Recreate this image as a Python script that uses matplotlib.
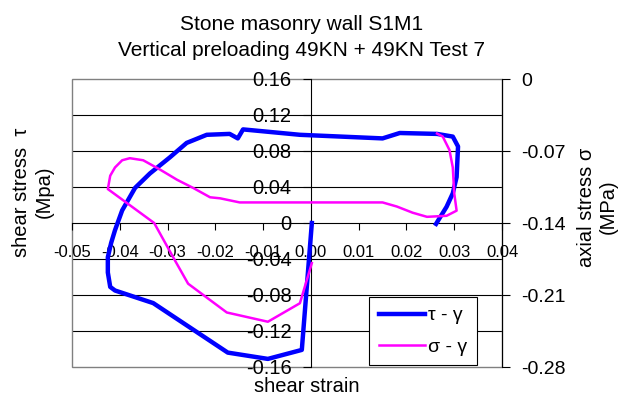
import matplotlib
matplotlib.use("Agg")
import matplotlib.pyplot as plt
from matplotlib.patches import Rectangle

plt.rcParams['font.family'] = ['Liberation Sans', 'DejaVu Sans']

# Shear stress tau (MPa) versus shear strain gamma
gamma_tau = [0.0002, -0.0019, -0.0090, -0.0174, -0.0330, -0.0410, -0.0420, -0.0425,
             -0.0425, -0.0418, -0.0410, -0.0395, -0.0368, -0.0337, -0.0295, -0.0260,
             -0.0218, -0.0170, -0.0153, -0.0142, -0.0023, 0.0150, 0.0186, 0.0264,
             0.0297, 0.0308, 0.0305, 0.0297, 0.0284, 0.0270, 0.0262]
tau = [0.000, -0.141, -0.151, -0.144, -0.089, -0.075, -0.071, -0.055,
       -0.038, -0.022, -0.008, 0.014, 0.039, 0.055, 0.073, 0.089,
       0.098, 0.099, 0.094, 0.104, 0.098, 0.094, 0.100, 0.099,
       0.096, 0.085, 0.051, 0.033, 0.018, 0.006, -0.001]

# Axial stress sigma (MPa) versus shear strain gamma
gamma_sig = [0.0002, -0.0023, -0.0090, -0.0176, -0.0257, -0.0285, -0.0328, -0.0425,
             -0.0420, -0.0410, -0.0395, -0.0379, -0.0351, -0.0316, -0.0280, -0.0246,
             -0.0211, -0.0190, -0.0149, 0.0150, 0.0180, 0.0213, 0.0243, 0.0284,
             0.0305, 0.0300, 0.0297, 0.0290, 0.0276, 0.0264]
sigma = [-0.179, -0.218, -0.236, -0.227, -0.199, -0.176, -0.140, -0.107,
         -0.094, -0.086, -0.079, -0.077, -0.079, -0.088, -0.098, -0.106,
         -0.115, -0.116, -0.120, -0.120, -0.124, -0.130, -0.134, -0.133,
         -0.128, -0.111, -0.086, -0.069, -0.056, -0.053]

x_ticks = [-0.05, -0.04, -0.03, -0.02, -0.01, 0.00, 0.01, 0.02, 0.03, 0.04]
x_labels = ['-0.05', '-0.04', '-0.03', '-0.02', '-0.01', '0.00', '0.01', '0.02', '0.03', '0.04']
tau_ticks = [-0.16, -0.12, -0.08, -0.04, 0.0, 0.04, 0.08, 0.12, 0.16]
tau_labels = ['-0.16', '-0.12', '-0.08', '-0.04', '0', '0.04', '0.08', '0.12', '0.16']
sig_ticks = [-0.28, -0.21, -0.14, -0.07, 0.0]
sig_labels = ['-0.28', '-0.21', '-0.14', '-0.07', '0']

W, H = 626, 396
fig = plt.figure(figsize=(W / 100, H / 100), dpi=100)
x0, x1, y0, y1 = 72, 502, 79, 367
ax = fig.add_axes([x0 / W, 1 - y1 / H, (x1 - x0) / W, (y1 - y0) / H])
ax.set_xlim(-0.05, 0.04)
ax.set_ylim(-0.16, 0.16)

# horizontal gridlines
for t in tau_ticks[1:-1]:
    if t != 0:
        ax.axhline(t, color='black', lw=0.8, zorder=1)

# plot-area border
ax.add_patch(Rectangle((0, 0), 1, 1, transform=ax.transAxes, fill=False,
                       edgecolor='#808080', lw=1.0, zorder=1, clip_on=False))

for s in ['top', 'right']:
    ax.spines[s].set_visible(False)
ax.spines['left'].set_position(('data', 0))
ax.spines['bottom'].set_position(('data', 0))
ax.spines['left'].set_color('black')
ax.spines['bottom'].set_color('black')
ax.spines['left'].set_linewidth(0.8)
ax.spines['bottom'].set_linewidth(0.8)

ax.set_xticks(x_ticks)
ax.set_xticklabels(x_labels)
ax.set_yticks(tau_ticks)
ax.set_yticklabels(tau_labels)
ax.tick_params(axis='x', direction='out', length=5, width=0.8, labelsize=12, pad=11)
ax.tick_params(axis='y', direction='out', length=6, width=0.8, labelsize=14.5, pad=8)

l1, = ax.plot(gamma_tau, tau, color='#0000FF', lw=3.2, solid_joinstyle='round',
              label='τ - γ', zorder=3)

ax2 = ax.twinx()
ax2.set_ylim(-0.28, 0.0)
ax2.set_xlim(-0.05, 0.04)
for s in ['top', 'left', 'bottom']:
    ax2.spines[s].set_visible(False)
ax2.spines['right'].set_color('black')
ax2.spines['right'].set_linewidth(0.8)
ax2.set_yticks(sig_ticks)
ax2.set_yticklabels(sig_labels)
ax2.tick_params(axis='y', direction='out', length=6, width=0.8, labelsize=14, pad=8)
l2, = ax2.plot(gamma_sig, sigma, color='#FF00FF', lw=1.8, label='σ - γ', zorder=3)

leg = ax2.legend(handles=[l1, l2], loc='upper left',
                 bbox_to_anchor=(369 / W, 1 - 297 / H), bbox_transform=fig.transFigure,
                 borderaxespad=0, fontsize=14, frameon=True, fancybox=False,
                 handlelength=2.4, handletextpad=0.15, labelspacing=0.7,
                 borderpad=0.5)
leg.get_frame().set_edgecolor('black')
leg.get_frame().set_linewidth(0.8)
leg.get_frame().set_alpha(1)

fig.text(302 / W, 1 - 24 / H, 'Stone masonry wall S1M1', ha='center', va='center', fontsize=15)
fig.text(302 / W, 1 - 50 / H, 'Vertical preloading 49KN + 49KN Test 7', ha='center',
         va='center', fontsize=15)
fig.text(33 / W, 1 - 192 / H, 'shear stress  τ\n(Mpa)', rotation=90, ha='center',
         va='center', fontsize=14.5, multialignment='center')
fig.text(597 / W, 1 - 207 / H, 'axial stress σ\n(MPa)', rotation=90, ha='center',
         va='center', fontsize=14.5, multialignment='center')
fig.text(307 / W, 1 - 386 / H, 'shear strain', ha='center', va='center', fontsize=14.5)

fig.savefig('out.png', dpi=100)
